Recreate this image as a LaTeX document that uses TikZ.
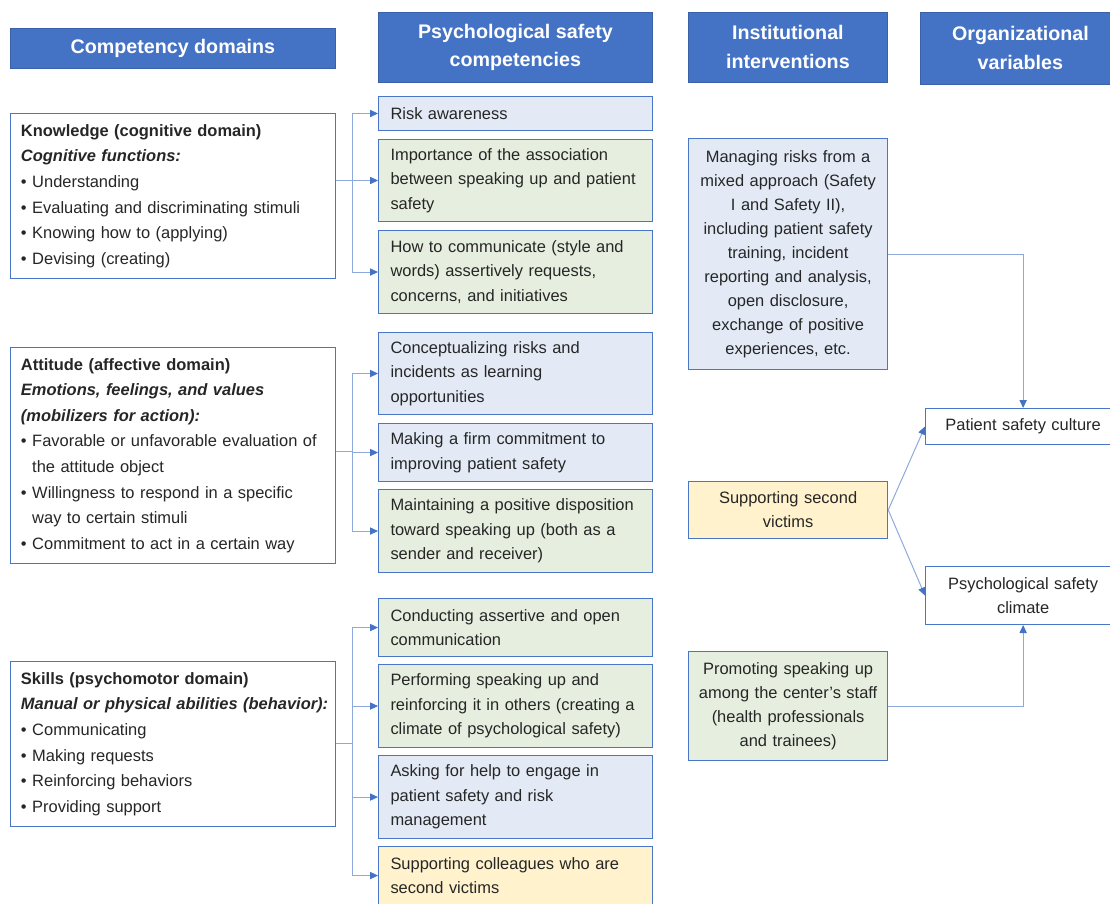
\documentclass[tikz,border=0pt]{standalone}
\usepackage{fontspec}
\setmainfont{Liberation Sans}
\usepackage{xcolor}
\usetikzlibrary{arrows.meta,positioning}
\definecolor{hdrblue}{HTML}{4472C4}
\definecolor{edgeblue}{HTML}{4A76C8}
\definecolor{linkblue}{HTML}{8EA9DB}
\definecolor{fillblue}{HTML}{E3EAF6}
\definecolor{fillgreen}{HTML}{E6EFDF}
\definecolor{fillyellow}{HTML}{FFF2CC}
\definecolor{txtgray}{HTML}{262626}

\begin{document}
\begin{tikzpicture}[x=0.025cm, y=-0.025cm,
  hdr/.style={rectangle, fill=hdrblue, draw=hdrblue!85!black, line width=0.5pt, text=white, align=center, anchor=north west, inner sep=0pt, font=\fontsize{14}{20.5}\selectfont\bfseries},
  dom/.style={rectangle, draw=edgeblue, line width=0.7pt, fill=white, anchor=north west, minimum width=8.125cm, text width=7.6cm, inner xsep=0.26cm, align=left, text=txtgray, font=\fontsize{11.7}{18.2}\selectfont},
  comp/.style={rectangle, draw=edgeblue, line width=0.7pt, minimum width=6.85cm, text width=6.25cm, inner xsep=0.3cm, align=left, text=txtgray, font=\fontsize{11.7}{17.4}\selectfont},
  inter/.style={rectangle, draw=edgeblue, line width=0.7pt, anchor=north west, minimum width=4.975cm, text width=4.6cm, inner xsep=0.19cm, align=center, text=txtgray, font=\fontsize{11.7}{17.1}\selectfont},
  org/.style={rectangle, draw=edgeblue, line width=0.7pt, fill=white, anchor=north west, minimum width=4.875cm, text width=4.5cm, inner xsep=0.19cm, align=center, text=txtgray, font=\fontsize{11.7}{17.1}\selectfont},
  link/.style={draw=linkblue, line width=0.7pt},
  arr/.style={link, -{Triangle[length=2mm, width=1.8mm, color=hdrblue]}}
]
\clip (0,0) rectangle (1110,903);
\fill[white] (0,0) rectangle (1110,903);

% column headers
\node[hdr, minimum width=8.125cm, minimum height=1cm] (h1) at (10,28) {Competency domains};
\node[hdr, minimum width=6.85cm, minimum height=1.75cm] (h2) at (378,12) {Psychological safety\\competencies};
\node[hdr, minimum width=4.975cm, minimum height=1.75cm] (h3) at (688,12) {Institutional\\interventions};
\node[hdr, minimum width=5cm, minimum height=1.8cm] (h4) at (920,12) {Organizational\\variables};

% competency domains
\node[dom, minimum height=4.125cm] (know) at (10,113) {\textbf{Knowledge (cognitive domain)}\\
\textbf{\textit{Cognitive functions:}}\\
\textbullet\ Understanding\\
\textbullet\ Evaluating and discriminating stimuli\\
\textbullet\ Knowing how to (applying)\\
\textbullet\ Devising (creating)};
\node[dom, minimum height=5.4cm] (att) at (10,347) {\textbf{Attitude (affective domain)}\\
\textbf{\textit{Emotions, feelings, and values}}\\
\textbf{\textit{(mobilizers for action):}}\\
\textbullet\ Favorable or unfavorable evaluation of\\
\phantom{\textbullet}\ the attitude object\\
\textbullet\ Willingness to respond in a specific\\
\phantom{\textbullet}\ way to certain stimuli\\
\textbullet\ Commitment to act in a certain way};
\node[dom, minimum height=4.125cm] (skill) at (10,661) {\textbf{Skills (psychomotor domain)}\\
\mbox{\textbf{\textit{Manual or physical abilities (behavior):}}}\\
\textbullet\ Communicating\\
\textbullet\ Making requests\\
\textbullet\ Reinforcing behaviors\\
\textbullet\ Providing support};

% psychological safety competencies
\node[comp, fill=fillblue, anchor=north west, minimum height=0.85cm] (risk) at (378,96) {Risk awareness};
\node[comp, fill=fillgreen, minimum height=2.05cm, below=0.2cm of risk] (imp) {Importance of the association\\between speaking up and patient\\safety};
\node[comp, fill=fillgreen, minimum height=2.075cm, below=0.2cm of imp] (how) {How to communicate (style and\\words) assertively requests,\\concerns, and initiatives};
\node[comp, fill=fillblue, minimum height=2.05cm, below=0.45cm of how] (conc) {Conceptualizing risks and\\incidents as learning\\opportunities};
\node[comp, fill=fillblue, minimum height=1.45cm, below=0.2cm of conc] (firm) {Making a firm commitment to\\improving patient safety};
\node[comp, fill=fillgreen, minimum height=2.075cm, below=0.175cm of firm] (disp) {Maintaining a positive disposition\\toward speaking up (both as a\\sender and receiver)};
\node[comp, fill=fillgreen, minimum height=1.45cm, below=0.625cm of disp] (cond) {Conducting assertive and open\\communication};
\node[comp, fill=fillgreen, minimum height=2.075cm, below=0.175cm of cond] (perf) {Performing speaking up and\\reinforcing it in others (creating a\\climate of psychological safety)};
\node[comp, fill=fillblue, minimum height=2.075cm, below=0.175cm of perf] (ask) {Asking for help to engage in\\patient safety and risk\\management};
\node[comp, fill=fillyellow, minimum height=1.45cm, below=0.175cm of ask] (coll) {Supporting colleagues who are\\second victims};

% institutional interventions
\node[inter, fill=fillblue, minimum height=5.775cm] (manage) at (688,138) {Managing risks from a\\mixed approach (Safety\\I and Safety II),\\including patient safety\\training, incident\\reporting and analysis,\\open disclosure,\\exchange of positive\\experiences, etc.};
\node[inter, fill=fillyellow, minimum height=1.425cm] (second) at (688,481) {Supporting second\\victims};
\node[inter, fill=fillgreen, minimum height=2.725cm] (promote) at (688,651) {Promoting speaking up\\among the center's staff\\(health professionals\\and trainees)};

% organizational variables
\node[org, minimum height=0.9cm] (culture) at (925,408) {Patient safety culture};
\node[org, minimum height=1.45cm] (climate) at (925,566) {Psychological safety\\climate};

% domain -> competency links
\coordinate (kj) at (352,180);
\draw[link] (know.east |- kj) -- (kj);
\draw[link] (kj |- risk.west) -- (kj |- how.west);
\draw[arr] (kj |- risk.west) -- (risk.west);
\draw[arr] (kj |- imp.west) -- (imp.west);
\draw[arr] (kj |- how.west) -- (how.west);

\coordinate (aj) at (352,451);
\draw[link] (att.east |- aj) -- (aj);
\draw[link] (aj |- conc.west) -- (aj |- disp.west);
\draw[arr] (aj |- conc.west) -- (conc.west);
\draw[arr] (aj |- firm.west) -- (firm.west);
\draw[arr] (aj |- disp.west) -- (disp.west);

\coordinate (sj) at (352,743);
\draw[link] (skill.east |- sj) -- (sj);
\draw[link] (sj |- cond.west) -- (sj |- coll.west);
\draw[arr] (sj |- cond.west) -- (cond.west);
\draw[arr] (sj |- perf.west) -- (perf.west);
\draw[arr] (sj |- ask.west) -- (ask.west);
\draw[arr] (sj |- coll.west) -- (coll.west);

% intervention -> organizational links
\draw[arr] (manage.east) -| (culture.north);
\draw[arr] (second.east) -- (culture.west);
\draw[arr] (second.east) -- (climate.west);
\draw[arr] (promote.east) -| (climate.south);
\end{tikzpicture}
\end{document}
